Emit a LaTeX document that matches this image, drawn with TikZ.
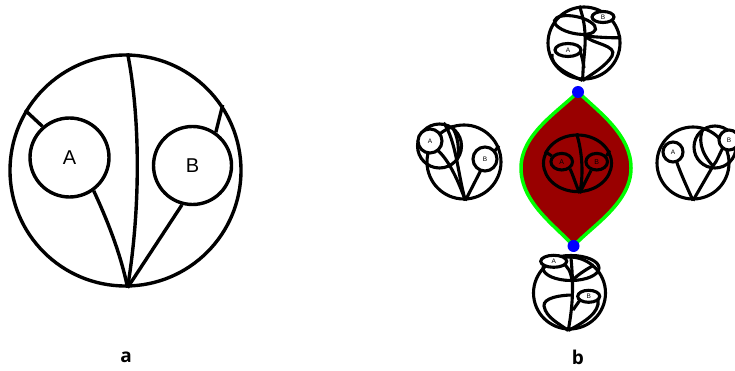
\documentclass[tikz,border=0pt]{standalone}
\usepackage{fontspec}
\setmainfont{Liberation Sans}
\newfontfamily\labfont{Open Sans}
\usetikzlibrary{shapes.geometric}
\definecolor{lensred}{RGB}{153,0,0}
\definecolor{lgreen}{RGB}{0,255,0}
\definecolor{dotblue}{RGB}{0,0,255}
\begin{document}
\begin{tikzpicture}[x=1pt,y=-1pt,
  big/.style={line width=3.4pt},
  sm/.style={line width=3.1pt},
  rnd/.style={circle,draw,inner sep=0pt},
  ell/.style={ellipse,draw,inner sep=0pt},
  lab/.style={fill=white,font=\fontsize{6.5}{7}\selectfont},
  bigtxt/.style={font=\fontsize{20}{24}\selectfont},
  sublab/.style={font=\labfont\bfseries\fontsize{19}{22}\selectfont},
  vertexdot/.style={circle,fill=dotblue,inner sep=0pt,minimum size=12pt}]
\useasboundingbox (0,0) rectangle (735,371);

% ---------------- panel a
\node[rnd,big,minimum size=231pt] (O) at (125.5,170.5) {};
\node[rnd,big,minimum size=79pt,bigtxt] (A) at (69.5,157.5) {A};
\node[rnd,big,minimum size=78pt,bigtxt] (B) at (192.5,165.5) {B};
\coordinate (abot) at (O.-89);
\draw[big] (O.89) .. controls (139,110) and (142,200) .. (abot);
\draw[big] (A.131) -- (O.149);
\draw[big] (A.-54) .. controls (104,213) and (120,250) .. (abot);
\draw[big] (B.55) -- (O.34);
\draw[big] (B.-105) -- (abot);
\node[sublab] (la) at (126,357) {a};

% ---------------- panel b : lens
\coordinate (ltop) at (578,92);
\coordinate (lbot) at (573.5,246);
\draw[line width=3.5pt,draw=lgreen,fill=lensred,line join=round]
  (ltop) .. controls (556,113) and (521,135) .. (521,168)
  .. controls (521,203) and (556,226) .. (lbot)
  .. controls (592,226) and (631,203) .. (631,168)
  .. controls (631,135) and (600,113) .. (ltop) -- cycle;
\node[ell,sm,minimum width=68pt,minimum height=56.6pt] (IO) at (577.5,163.3) {};
\node[ell,sm,minimum width=21.6pt,minimum height=16.6pt,font=\fontsize{7}{8}\selectfont] (iA) at (561.7,161.7) {A};
\node[ell,sm,minimum width=21.6pt,minimum height=16.6pt,font=\fontsize{7}{8}\selectfont] (iB) at (596.7,161.7) {B};
\coordinate (ibot) at (IO.-86);
\draw[sm] (IO.92) .. controls (582,150) and (584,175) .. (ibot);
\draw[sm] (iA.-41) .. controls (573,175) and (576,185) .. (ibot);
\draw[sm] (iB.-123) -- (ibot);
\draw[sm] (iA.150) -- (IO.160);
\draw[sm] (iB.30) -- (IO.22);
\node[vertexdot] (dt) at (ltop) {};
\node[vertexdot] (db) at (lbot) {};

% ---------------- top small figure
\node[rnd,sm,minimum size=72pt] (TO) at (584,43) {};
\draw[sm,rotate around={-12:(575,25)}] (575,25) ellipse [x radius=21pt, y radius=8.5pt];
\coordinate (Tj) at (585,36);
\coordinate (Ts) at (584,68);
\draw[sm] (TO.-92) .. controls (583,60) and (586,45) .. (Tj);
\draw[sm] (Tj) .. controls (585,24) and (582,14) .. (TO.97);
\draw[sm] (TO.8) .. controls (610,38) and (595,37) .. (Tj);
\draw[sm] (Tj) .. controls (592,44) and (618,45) .. (612,56) .. controls (606,66) and (592,74) .. (TO.-92);
\draw[sm] (552,54) .. controls (550,66) and (568,74) .. (TO.-92);
\draw[sm] (580,52) .. controls (582,55) and (583,62) .. (Ts);
\node[ell,sm,lab,minimum width=22pt,minimum height=11pt] (TB) at (603,17) {B};
\node[ell,sm,lab,minimum width=26pt,minimum height=13pt] (TA) at (568,50) {A};

% ---------------- left small figure
\node[rnd,sm,minimum size=74pt] (LO) at (464,162) {};
\node[rnd,sm,minimum size=44pt] (LC) at (439.5,146) {};
\coordinate (Lbot) at (LO.-88);
\coordinate (Lj) at (457,160);
\draw[sm] (Lbot) .. controls (458,175) and (456,140) .. (LC.80);
\draw[sm] (LC.60) .. controls (458,135) and (460,150) .. (Lj);
\draw[sm] (436,149) .. controls (448,158) and (458,180) .. (Lbot);
\draw[sm] (481,170) -- (Lbot);
\draw[sm] (494,152) -- (LO.25);
\node[rnd,sm,lab,minimum size=24pt] (LA) at (430,141) {A};
\node[rnd,sm,lab,minimum size=24pt] (LB) at (485,159) {B};

% ---------------- right small figure
\node[rnd,sm,minimum size=72pt] (RO) at (693,163) {};
\node[rnd,sm,minimum size=42pt] (RC) at (715,147) {};
\coordinate (Rbot) at (RO.-90);
\coordinate (Rj) at (713,166);
\draw[sm] (Rbot) .. controls (686,185) and (680,172) .. (676,160);
\draw[sm] (Rbot) -- (Rj);
\draw[sm] (Rj) .. controls (700,152) and (698,138) .. (RC.120);
\draw[sm] (Rj) .. controls (718,160) and (720,152) .. (724,146);
\node[rnd,sm,lab,minimum size=20pt] (RA) at (673,152) {A};
\node[rnd,sm,lab,minimum size=20pt] (RB) at (729,140) {B};

% ---------------- bottom small figure
\node[rnd,sm,minimum size=72pt] (BO) at (569.5,293) {};
\draw[sm] (571,268) ellipse [x radius=28pt, y radius=12.5pt];
\coordinate (Bs) at (572,281);
\draw[sm] (BO.88) .. controls (573,280) and (574,300) .. (BO.-92);
\draw[sm] (562,263) .. controls (568,266) and (571,272) .. (Bs);
\draw[sm] (594,265) .. controls (585,270) and (576,276) .. (Bs);
\draw[sm] (573,295) .. controls (560,295) and (543,298) .. (544,306) .. controls (546,318) and (560,324) .. (BO.-92);
\draw[sm] (598,300) .. controls (600,312) and (585,322) .. (BO.-92);
\draw[sm] (580,300) -- (573,310);
\node[ell,sm,lab,minimum width=26pt,minimum height=12pt] (BA) at (553.7,261.3) {A};
\node[ell,sm,lab,minimum width=22pt,minimum height=12pt] (BB) at (588.7,296.3) {B};

\node[sublab] (lb) at (578,357) {b};
\end{tikzpicture}
\end{document}
